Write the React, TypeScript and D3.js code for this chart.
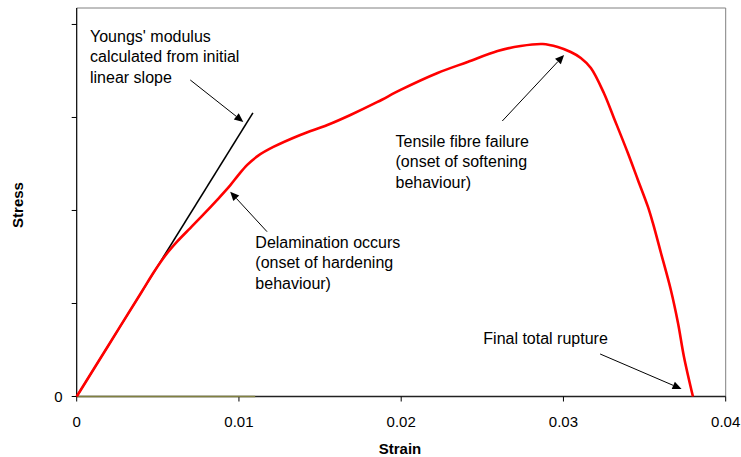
import React from "react";
import * as d3 from "d3";

// Measured curve (strain, stress in arbitrary units; stress axis unlabeled except 0)
const strain = [0, 0.002, 0.004, 0.0048, 0.0055, 0.0062, 0.007, 0.0078, 0.00866, 0.00946, 0.00996, 0.01051, 0.01119, 0.01212, 0.01378, 0.01545, 0.01687, 0.01854, 0.01996, 0.02224, 0.02409, 0.02594, 0.02736, 0.02872, 0.02965, 0.03045, 0.03107, 0.03169, 0.03249, 0.03311, 0.03397, 0.03459, 0.03521, 0.03551, 0.03601, 0.03662, 0.03706, 0.03743, 0.03798];
const stress = [0, 0.562, 1.124, 1.349, 1.524, 1.667, 1.811, 1.955, 2.115, 2.27, 2.38, 2.49, 2.59, 2.683, 2.812, 2.919, 3.027, 3.167, 3.296, 3.478, 3.597, 3.715, 3.769, 3.79, 3.758, 3.704, 3.64, 3.532, 3.263, 2.995, 2.618, 2.328, 2.038, 1.866, 1.543, 1.145, 0.79, 0.425, 0];

// Initial linear slope (Young's modulus line)
const slopeStrain = [0, 0.01086];
const slopeStress = [0, 3.05];

// Zero baseline series
const zeroStrain = [0, 0.011];
const zeroStress = [0, 0];

const xTicks = [0, 0.01, 0.02, 0.03, 0.04];
const xTickLabels = ["0", "0.01", "0.02", "0.03", "0.04"];
const yTicks = [0, 1, 2, 3, 4];
const yTickLabels = ["0", "", "", "", ""];

// Annotations: text lines, text anchor point, arrow start and tip (data coords)
const annTexts = [
  ["Youngs' modulus", "calculated from initial", "linear slope"],
  ["Tensile fibre failure", "(onset of softening", "behaviour)"],
  ["Delamination occurs", "(onset of hardening", "behaviour)"],
  ["Final total rupture"],
];
const annTextX = [0.00082, 0.01965, 0.01101, 0.02506];
const annTextY = [3.815, 2.686, 1.597, 0.565];
const arrowFromX = [0.007, 0.02623, 0.01173, 0.03226];
const arrowFromY = [3.403, 2.962, 1.772, 0.457];
const arrowToX = [0.01027, 0.03004, 0.00946, 0.03728];
const arrowToY = [2.952, 3.672, 2.202, 0.081];

export default function App() {
  const W = 741, H = 457;
  const x = d3.scaleLinear().domain([0, 0.04]).range([76.7, 725.7]);
  const y = d3.scaleLinear().domain([0, 4.177]).range([396.5, 8]);
  const font = "Liberation Sans, Arial, sans-serif";

  const curvePts: [number, number][] = strain.map((s, i) => [s, stress[i]]);
  const line = d3
    .line<[number, number]>()
    .x((d) => x(d[0]))
    .y((d) => y(d[1]))
    .curve(d3.curveCatmullRom.alpha(0.5));
  const straight = d3
    .line<[number, number]>()
    .x((d) => x(d[0]))
    .y((d) => y(d[1]));
  const slopePts: [number, number][] = slopeStrain.map((s, i) => [s, slopeStress[i]]);
  const zeroPts: [number, number][] = zeroStrain.map((s, i) => [s, zeroStress[i]]);

  const x0 = x(0), x1 = x(0.04), yTop = y.range()[1], yBot = y(0);

  const arrows = annTexts.map((_, i) => {
    const fx = x(arrowFromX[i]), fy = y(arrowFromY[i]);
    const tx = x(arrowToX[i]), ty = y(arrowToY[i]);
    const ang = Math.atan2(ty - fy, tx - fx);
    const len = 9, half = 4;
    const bx = tx - len * Math.cos(ang), by = ty - len * Math.sin(ang);
    const p1 = [bx + half * Math.sin(ang), by - half * Math.cos(ang)];
    const p2 = [bx - half * Math.sin(ang), by + half * Math.cos(ang)];
    return { fx, fy, bx, by, tx, ty, p1, p2 };
  });

  return (
    <svg width={W} height={H} style={{ position: "absolute", left: 0, top: 0, background: "#fff" }} fontFamily={font}>
      <rect x={0} y={0} width={W} height={H} fill="#fff" />
      {/* plot border (top/right) */}
      <line x1={x0} y1={yTop} x2={x1} y2={yTop} stroke="#808080" strokeWidth={1} />
      <line x1={x1} y1={yTop} x2={x1} y2={yBot} stroke="#808080" strokeWidth={1} />
      {/* axes */}
      <line x1={x0} y1={yTop} x2={x0} y2={yBot} stroke="#000" strokeWidth={1.2} />
      <line x1={x0} y1={yBot} x2={x1} y2={yBot} stroke="#222" strokeWidth={1.5} />
      {yTicks.map((t, i) => (
        <g key={"yt" + i}>
          <line x1={x0 - 5} x2={x0} y1={y(t)} y2={y(t)} stroke="#000" strokeWidth={1} />
          {yTickLabels[i] && (
            <text x={x0 - 14} y={y(t) + 5.5} fontSize={15} textAnchor="end" fill="#000">
              {yTickLabels[i]}
            </text>
          )}
        </g>
      ))}
      {xTicks.map((t, i) => (
        <g key={"xt" + i}>
          <line x1={x(t)} x2={x(t)} y1={yBot} y2={yBot + 5} stroke="#000" strokeWidth={1} />
          <text x={x(t)} y={yBot + 30} fontSize={15} textAnchor="middle" fill="#000">
            {xTickLabels[i]}
          </text>
        </g>
      ))}
      {/* series */}
      <path d={straight(zeroPts) || ""} stroke="#808040" strokeWidth={1.5} fill="none" />
      <path d={straight(slopePts) || ""} stroke="#000" strokeWidth={1.6} fill="none" />
      <path d={line(curvePts) || ""} stroke="#ff0000" strokeWidth={2.6} fill="none" strokeLinejoin="round" />
      {/* annotations */}
      {annTexts.map((lines, i) => (
        <text key={"an" + i} x={x(annTextX[i])} y={y(annTextY[i])} fontSize={16} fill="#000">
          {lines.map((l, j) => (
            <tspan key={j} x={x(annTextX[i])} dy={j === 0 ? 0 : 20.5}>
              {l}
            </tspan>
          ))}
        </text>
      ))}
      {arrows.map((a, i) => (
        <g key={"ar" + i}>
          <line x1={a.fx} y1={a.fy} x2={a.bx} y2={a.by} stroke="#000" strokeWidth={1} />
          <polygon points={`${a.tx},${a.ty} ${a.p1[0]},${a.p1[1]} ${a.p2[0]},${a.p2[1]}`} fill="#000" />
        </g>
      ))}
      {/* axis titles */}
      <text x={400} y={454} fontSize={15} fontWeight="bold" textAnchor="middle" fill="#000">
        Strain
      </text>
      <text transform="translate(23,205) rotate(-90)" fontSize={15} fontWeight="bold" textAnchor="middle" fill="#000">
        Stress
      </text>
    </svg>
  );
}
